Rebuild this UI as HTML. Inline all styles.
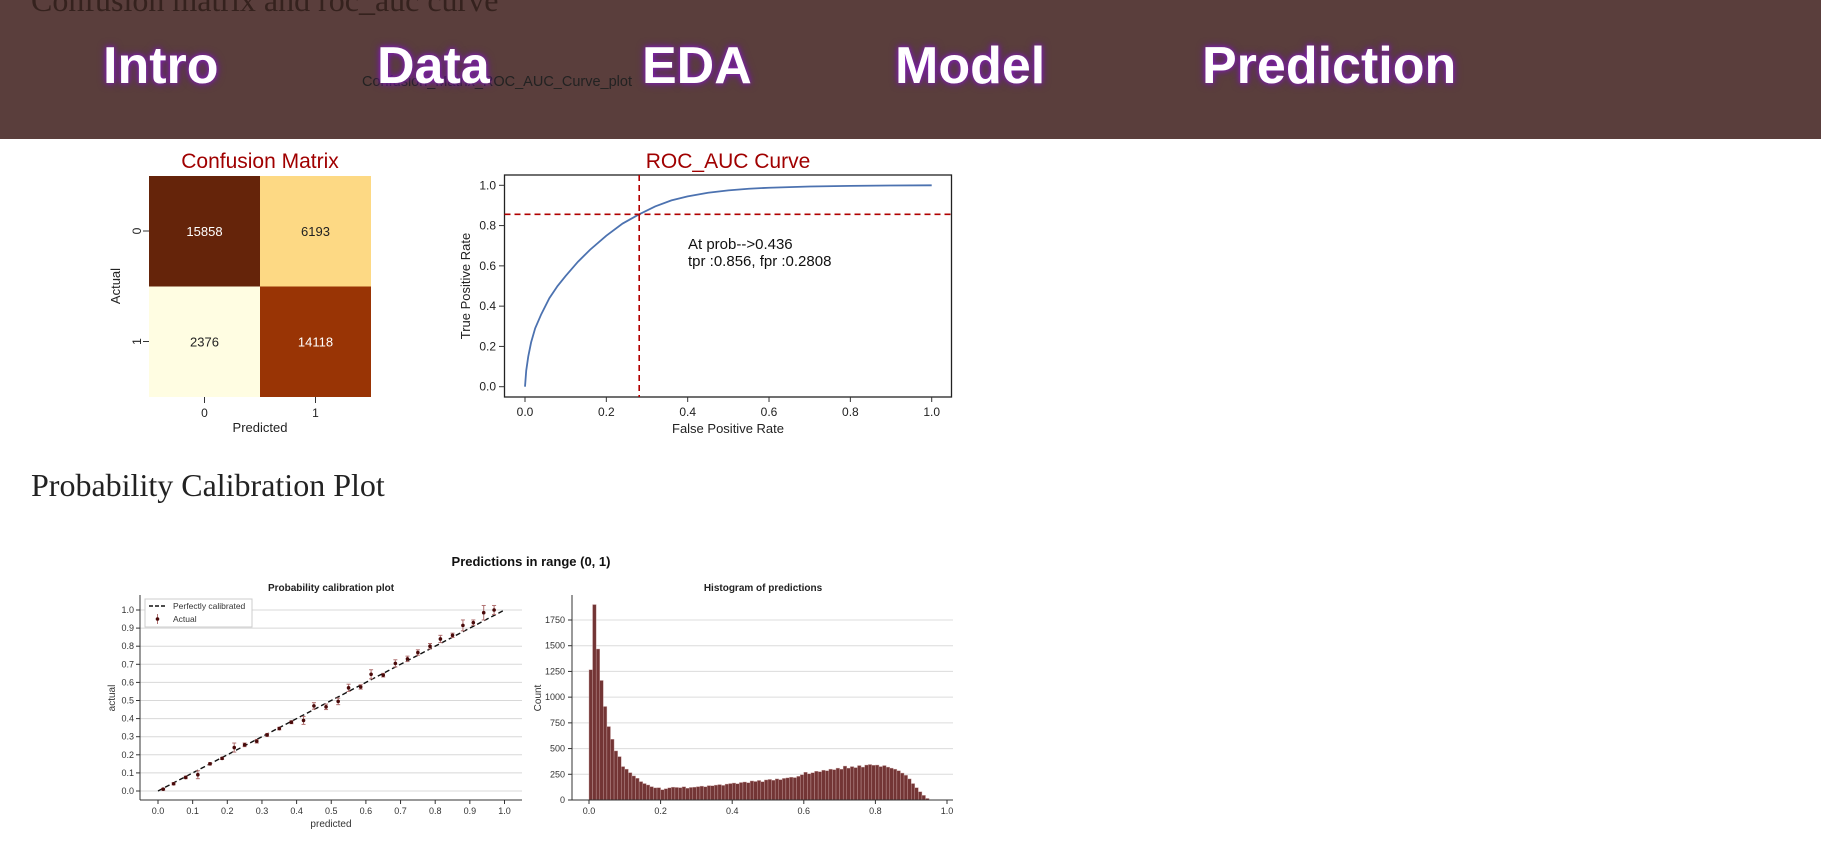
<!DOCTYPE html>
<html><head><meta charset="utf-8"><style>
body{margin:0;width:1821px;height:862px;overflow:hidden;background:#fff;position:relative;font-family:"Liberation Sans",sans-serif}
#hdr{position:absolute;left:0;top:0;width:1821px;height:139px;background:#5a3e3c}
.nav{position:absolute;top:36px;font:bold 52px "Liberation Sans",sans-serif;color:#fff;text-shadow:0 0 5px #8a1fc0,0 0 9px #6a1a98;cursor:pointer}
#t1{position:absolute;left:31px;top:-18px;font:32px "Liberation Serif",serif;color:#35221e;margin:0;font-weight:normal}
#alt{position:absolute;left:362px;top:74px;font:14.5px "Liberation Sans",sans-serif;color:#222}
#t2{position:absolute;left:31px;top:467px;font:32px "Liberation Serif",serif;color:#222;margin:0;font-weight:normal}
svg{position:absolute;left:0;top:0}
</style></head><body>
<div id="hdr"></div>
<h2 id="t1">Confusion matrix and roc_auc curve</h2>
<div id="alt">Confusion_Matrix_ROC_AUC_Curve_plot</div>
<div class="nav" style="left:103px">Intro</div>
<div class="nav" style="left:377px">Data</div>
<div class="nav" style="left:642px">EDA</div>
<div class="nav" style="left:895px">Model</div>
<div class="nav" style="left:1202px">Prediction</div>
<h2 id="t2">Probability Calibration Plot</h2>
<svg id="s" width="1821" height="862" style="top:0"></svg>
<script>
const cmValues=[[15858,6193],[2376,14118]];
const cmColors=[["#65240a","#fdd984"],["#fffde2","#993405"]];
const cmLabels=["0","1"];
const rocFpr=[0,0.003,0.008,0.015,0.025,0.04,0.06,0.08,0.1,0.13,0.16,0.2,0.24,0.2808,0.32,0.36,0.4,0.45,0.5,0.55,0.6,0.7,0.8,0.9,1.0];
const rocTpr=[0,0.08,0.15,0.22,0.29,0.36,0.44,0.5,0.55,0.62,0.68,0.75,0.81,0.856,0.895,0.925,0.945,0.963,0.975,0.983,0.988,0.994,0.997,0.999,1.0];
const rocTicks=[0,0.2,0.4,0.6,0.8,1.0];
const calPred=[0.015,0.045,0.08,0.115,0.15,0.185,0.22,0.25,0.285,0.315,0.35,0.385,0.42,0.45,0.485,0.52,0.55,0.585,0.615,0.65,0.685,0.72,0.75,0.785,0.815,0.85,0.88,0.91,0.94,0.97];
const calActual=[0.01,0.04,0.075,0.09,0.15,0.18,0.24,0.255,0.275,0.31,0.345,0.38,0.39,0.47,0.465,0.495,0.57,0.575,0.645,0.64,0.705,0.73,0.765,0.80,0.84,0.86,0.915,0.93,0.985,1.0];
const calErr=[0.005,0.006,0.007,0.022,0.006,0.006,0.025,0.01,0.01,0.008,0.007,0.008,0.022,0.018,0.015,0.018,0.02,0.012,0.025,0.01,0.02,0.015,0.015,0.015,0.02,0.012,0.03,0.015,0.04,0.025];
const calTicks=[0,0.1,0.2,0.3,0.4,0.5,0.6,0.7,0.8,0.9,1.0];
const histCounts=[1266,1900,1468,1162,909,714,591,477,422,325,300,266,234,211,179,160,146,130,118,120,
100,110,118,125,122,120,128,115,122,125,130,135,128,140,138,145,150,142,155,160,
165,158,170,175,168,185,180,190,178,195,200,192,205,198,210,215,222,218,230,245,
270,255,265,280,275,290,285,300,295,310,300,330,310,325,315,335,320,340,345,338,
340,325,335,320,310,300,285,262,240,205,160,120,80,45,15];
const histYTicks=[0,250,500,750,1000,1250,1500,1750];
const histXTicks=[0,0.2,0.4,0.6,0.8,1.0];
const NS="http://www.w3.org/2000/svg",S=document.getElementById('s');
function E(t,a,txt){const e=document.createElementNS(NS,t);for(const k in a)e.setAttribute(k,a[k]);if(txt!==undefined)e.textContent=txt;S.appendChild(e);return e;}
const cmx=i=>149+i*111, cmy=i=>176+i*110.5;
E('text',{x:260,y:168,'font-size':21,fill:'#a00000','text-anchor':'middle',},'Confusion Matrix');
for(let r=0;r<2;r++)for(let c=0;c<2;c++){
 const rc=E('rect',{x:cmx(c),y:cmy(r),width:111,height:110.5,fill:cmColors[r][c]});
 
 
 const t=E('text',{x:cmx(c)+55.5,y:cmy(r)+60,'font-size':13,fill:(r+c)%2?'#222':'#fff','text-anchor':'middle'},String(cmValues[r][c]));
 
 
}
for(let i=0;i<2;i++){
 E('line',{x1:cmx(i)+55.5,x2:cmx(i)+55.5,y1:397,y2:403,stroke:'#333'});
 E('text',{x:cmx(i)+55.5,y:417,'font-size':12,fill:'#222','text-anchor':'middle'},cmLabels[i]);
 E('line',{x1:143,x2:149,y1:cmy(i)+55,y2:cmy(i)+55,stroke:'#333'});
 E('text',{x:137,y:cmy(i)+55,'font-size':12,fill:'#222','text-anchor':'middle',transform:`rotate(-90 137 ${cmy(i)+55})`,dy:4},cmLabels[i]);
}
E('text',{x:260,y:432,'font-size':13,fill:'#222','text-anchor':'middle',},'Predicted');
E('text',{x:120,y:286,'font-size':13,fill:'#222','text-anchor':'middle',transform:'rotate(-90 120 286)',},'Actual');
const rx=v=>525+v*406.7, ry=v=>386.7-v*201.4;
E('text',{x:728,y:168,'font-size':21,fill:'#a00000','text-anchor':'middle',},'ROC_AUC Curve');
E('rect',{x:504.5,y:175,width:447,height:222,fill:'none',stroke:'#222','stroke-width':1.3,});
rocTicks.forEach(v=>{
 E('line',{x1:rx(v),x2:rx(v),y1:397,y2:402,stroke:'#333'});
 E('text',{x:rx(v),y:416,'font-size':12,fill:'#222','text-anchor':'middle'},v.toFixed(1));
 E('line',{x1:499,x2:504.5,y1:ry(v),y2:ry(v),stroke:'#333'});
 E('text',{x:496,y:ry(v)+4,'font-size':12,fill:'#222','text-anchor':'end'},v.toFixed(1));
});
E('text',{x:728,y:433,'font-size':13,fill:'#222','text-anchor':'middle',},'False Positive Rate');
E('text',{x:470,y:286,'font-size':13,fill:'#222','text-anchor':'middle',transform:'rotate(-90 470 286)',},'True Positive Rate');
const rocLine=E('polyline',{points:rocFpr.map((f,i)=>rx(f)+','+ry(rocTpr[i])).join(' '),fill:'none',stroke:'#4c72b0','stroke-width':1.8});


const thrF=0.2808,thrT=0.856;
const vl=E('line',{x1:rx(thrF),x2:rx(thrF),y1:175,y2:397,stroke:'#b00000','stroke-width':1.6,'stroke-dasharray':'6,4'});


const hl=E('line',{x1:504.5,x2:951.5,y1:ry(thrT),y2:ry(thrT),stroke:'#b00000','stroke-width':1.6,'stroke-dasharray':'6,4'});


E('text',{x:688,y:249,'font-size':15,fill:'#111',},'At prob-->0.436');
E('text',{x:688,y:266,'font-size':15,fill:'#111'},'tpr :0.856, fpr :0.2808');
E('text',{x:531,y:566,'font-size':13,'font-weight':'bold',fill:'#111','text-anchor':'middle',},'Predictions in range (0, 1)');
E('text',{x:331,y:591,'font-size':10,'font-weight':'bold',fill:'#222','text-anchor':'middle',},'Probability calibration plot');
E('text',{x:763,y:591,'font-size':10,'font-weight':'bold',fill:'#222','text-anchor':'middle',},'Histogram of predictions');
const cx=v=>158+v*346.5, cy=v=>791-v*181;
calTicks.forEach(v=>{
 E('line',{x1:140,x2:522,y1:cy(v),y2:cy(v),stroke:'#d8d8d8','stroke-width':1});
 E('line',{x1:136,x2:140,y1:cy(v),y2:cy(v),stroke:'#333'});
 E('text',{x:134,y:cy(v)+3,'font-size':9,fill:'#333','text-anchor':'end'},v.toFixed(1));
 E('line',{x1:cx(v),x2:cx(v),y1:800,y2:804,stroke:'#333'});
 E('text',{x:cx(v),y:814,'font-size':9,fill:'#333','text-anchor':'middle'},v.toFixed(1));
});
E('line',{x1:140,x2:140,y1:595,y2:800,stroke:'#333'});
E('line',{x1:140,x2:522,y1:800,y2:800,stroke:'#333'});
E('text',{x:331,y:827,'font-size':10,fill:'#333','text-anchor':'middle',},'predicted');
E('text',{x:115,y:698,'font-size':10,fill:'#333','text-anchor':'middle',transform:'rotate(-90 115 698)',},'actual');
const pc=E('line',{x1:cx(0),y1:cy(0),x2:cx(1),y2:cy(1),stroke:'#111','stroke-width':1.4,'stroke-dasharray':'5,3'});


calPred.forEach((p,i)=>{
 const a=calActual[i],e=calErr[i];
 const eb=E('line',{x1:cx(p),x2:cx(p),y1:cy(a+e),y2:cy(a-e),stroke:'#b07070','stroke-width':1});
 
 
 E('line',{x1:cx(p)-2,x2:cx(p)+2,y1:cy(a+e),y2:cy(a+e),stroke:'#b07070'});
 E('line',{x1:cx(p)-2,x2:cx(p)+2,y1:cy(a-e),y2:cy(a-e),stroke:'#b07070'});
 const d=E('circle',{cx:cx(p),cy:cy(a),r:1.8,fill:'#4a0a0a'});
 
 
});
E('rect',{x:145,y:599,width:107,height:28,fill:'#fff',stroke:'#ccc',});
E('line',{x1:149,x2:166,y1:606,y2:606,stroke:'#111','stroke-width':1.4,'stroke-dasharray':'4,2'});
E('text',{x:173,y:609,'font-size':8.5,fill:'#333'},'Perfectly calibrated');
E('line',{x1:157.5,x2:157.5,y1:614,y2:624,stroke:'#b07070'});
E('circle',{cx:157.5,cy:619,r:1.8,fill:'#4a0a0a'});
E('text',{x:173,y:622,'font-size':8.5,fill:'#333'},'Actual');
const hx=v=>589+v*358, hy=c=>800-c*(180/1750);
histYTicks.forEach(v=>{
 if(v>0)E('line',{x1:572,x2:953,y1:hy(v),y2:hy(v),stroke:'#dcdcdc'});
 E('line',{x1:568,x2:572,y1:hy(v),y2:hy(v),stroke:'#333'});
 E('text',{x:565,y:hy(v)+3,'font-size':9,fill:'#333','text-anchor':'end'},String(v));
});
histXTicks.forEach(v=>{
 E('line',{x1:hx(v),x2:hx(v),y1:800,y2:804,stroke:'#333'});
 E('text',{x:hx(v),y:814,'font-size':9,fill:'#333','text-anchor':'middle'},v.toFixed(1));
});
histCounts.forEach((c,i)=>{
 const b=E('rect',{x:hx(i*0.01),y:hy(c),width:358*0.01,height:800-hy(c),fill:'#733535',stroke:'#caa4a4','stroke-width':0.4});
 
 
});
E('line',{x1:572,x2:572,y1:595,y2:800,stroke:'#333'});
E('line',{x1:572,x2:953,y1:800,y2:800,stroke:'#333'});
E('text',{x:541,y:698,'font-size':10,fill:'#333','text-anchor':'middle',transform:'rotate(-90 541 698)',},'Count');
</script>
</body></html>
